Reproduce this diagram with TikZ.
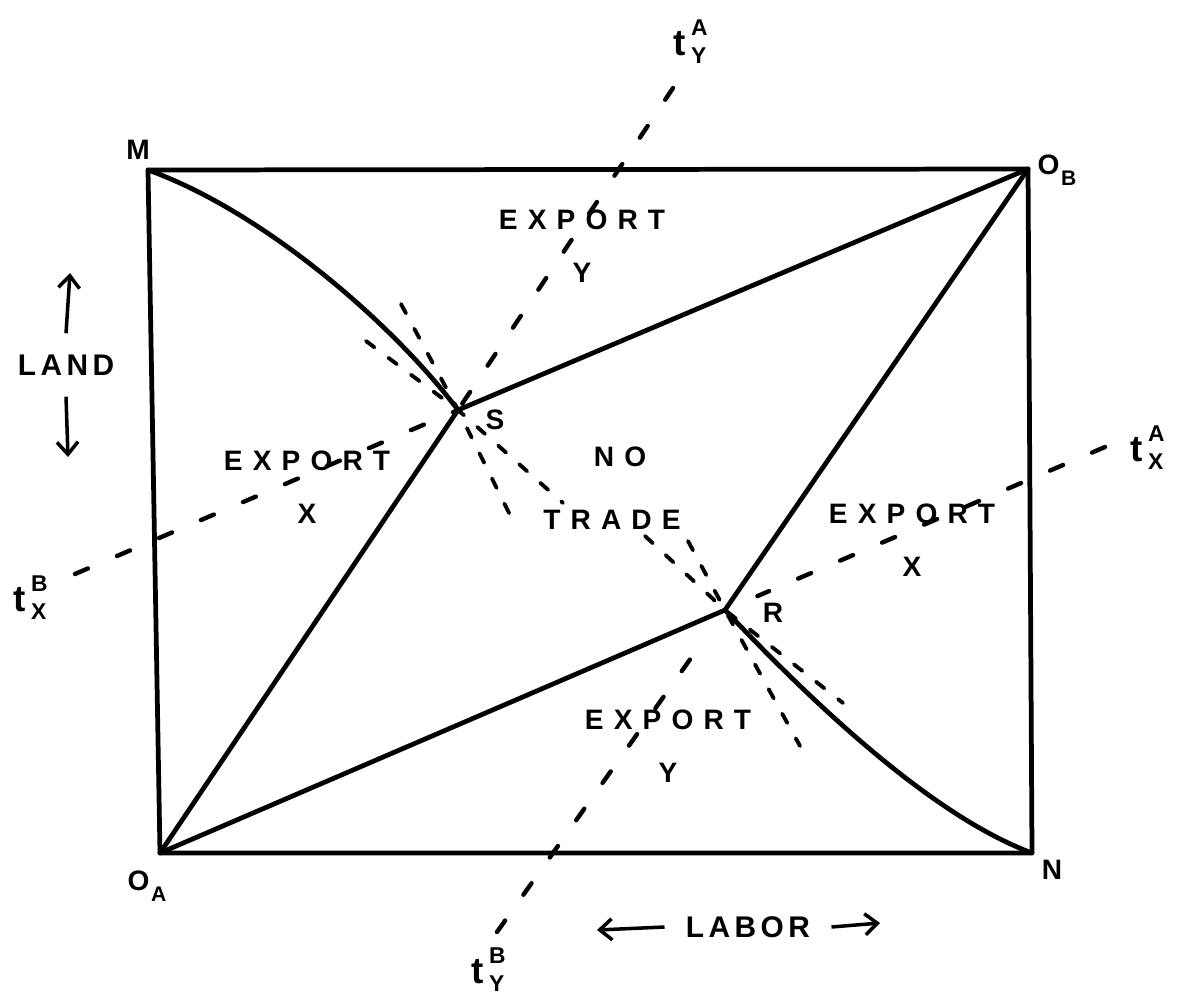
\documentclass[tikz,border=0pt]{standalone}
\usepackage{fontspec}
\setmainfont{Liberation Sans}[LetterSpace=15]
\newfontfamily\widefont{Liberation Sans}[LetterSpace=36]
\usetikzlibrary{arrows.meta}
\newcommand{\tlab}[2]{\fontsize{21}{21}\selectfont t\kern3pt\rlap{\raisebox{11pt}{\fontsize{13}{13}\selectfont #1}}\raisebox{-5pt}{\fontsize{13}{13}\selectfont #2}}
\newcommand{\orig}[1]{O\kern1pt\raisebox{-6pt}{\fontsize{12}{12}\selectfont #1}}
\begin{document}
\begin{tikzpicture}[x=0.02cm, y=-0.02cm,
  side/.style={line width=2.7pt, line join=round, line cap=round},
  trade/.style={line width=2.5pt, line cap=round, dash pattern=on 8pt off 18pt},
  tang/.style={line width=2.2pt, line cap=round, dash pattern=on 6pt off 10pt},
  word/.style={font=\widefont\bfseries\fontsize{16}{30}\selectfont, align=center, inner sep=0pt},
  corner/.style={font=\bfseries\fontsize{16}{16}\selectfont, inner sep=0pt},
  axis/.style={font=\bfseries\fontsize{17}{17}\selectfont, inner sep=0pt},
  arr/.style={line width=2pt, -{Straight Barb[length=7pt, width=12pt]}}]
\useasboundingbox (0,0) rectangle (1179,1001);
% corners of the box and the two points
\coordinate (M) at (148,170);
\coordinate (OB) at (1028,169);
\coordinate (N) at (1032,853);
\coordinate (OA) at (160,853);
\coordinate (S) at (458,410);
\coordinate (R) at (725,610);
\draw[side] (M) -- (OB) -- (N) -- (OA) -- cycle;
\draw[side] (OA) -- (S) -- (OB);
\draw[side] (OA) -- (R) -- (OB);
\draw[side] (M) .. controls (260,210) and (390,320) .. (S);
\draw[side] (R) .. controls (810,700) and (930,815) .. (N);
% price lines
\coordinate (tyAend) at (673,88);
\coordinate (tyBend) at (497,932);
\coordinate (txBend) at (75,574);
\coordinate (txAend) at (1105,447);
\draw[trade] (tyAend) -- (S);
\draw[trade, shorten >=20pt] (tyBend) -- (R);
\draw[trade] (txBend) -- (S);
\draw[trade, shorten >=20pt] (txAend) -- (R);
\node[font=\bfseries] (tyA) at (690,42) {\tlab{A}{Y}};
\node[font=\bfseries] (tyB) at (488,970) {\tlab{B}{Y}};
\node[font=\bfseries] (txB) at (30,598) {\tlab{B}{X}};
\node[font=\bfseries] (txA) at (1147,448) {\tlab{A}{X}};
% tangents at S and R
\coordinate (sA) at (401,304);
\coordinate (sB) at (516,527);
\coordinate (sC) at (366,341);
\coordinate (sD) at (563,503);
\coordinate (rA) at (688,541);
\coordinate (rB) at (800,746);
\coordinate (rC) at (645,536);
\coordinate (rD) at (843,703);
\draw[tang] (sA) -- (S) -- (sB);
\draw[tang] (sC) -- (S) -- (sD);
\draw[tang] (rA) -- (R) -- (rB);
\draw[tang] (rC) -- (R) -- (rD);
% labels
\node[corner] (lM) at (138,150) {M};
\node[corner] (lOB) at (1057,170) {\orig{B}};
\node[corner] (lOA) at (147,886) {\orig{A}};
\node[corner] (lN) at (1052,870) {N};
\node[corner] (lS) at (495,420) {S};
\node[corner] (lR) at (773,613) {R};
\node[word] (expY1) at (582,246) {EXPORT\\Y};
\node[word] (expX1) at (307,487) {EXPORT\\X};
\node[word] (expX2) at (912,540) {EXPORT\\X};
\node[word] (expY2) at (668,746) {EXPORT\\Y};
\node[word] (no) at (620,457) {NO};
\node[word] (trade) at (612,520) {TRADE};
% axes
\node[axis] (land) at (66,365) {LAND};
\node[axis] (labor) at (748,927) {LABOR};
\coordinate (landtop) at (70,273);
\coordinate (landbot) at (68,457);
\coordinate (laborL) at (597,930);
\coordinate (laborR) at (880,923);
\draw[arr] ([yshift=12pt]land.north) -- (landtop);
\draw[arr] ([yshift=-12pt]land.south) -- (landbot);
\draw[arr] ([xshift=-12pt]labor.west) -- (laborL);
\draw[arr] ([xshift=12pt]labor.east) -- (laborR);
\end{tikzpicture}
\end{document}
